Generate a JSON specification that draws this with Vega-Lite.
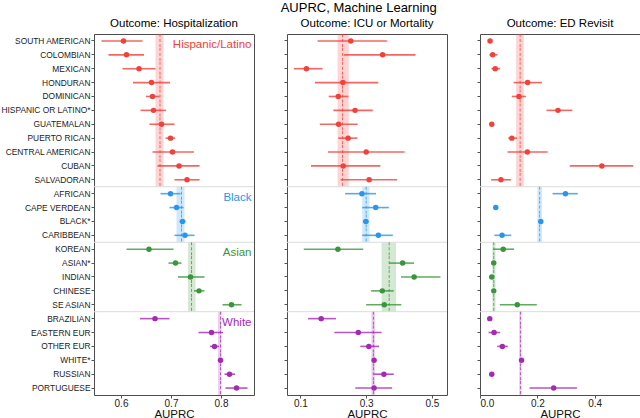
{
  "$schema": "https://vega.github.io/schema/vega-lite/v6.json",
  "padding": {"left": 0, "top": 1, "right": 0, "bottom": 0},
  "title": {"text": "AUPRC, Machine Learning", "fontSize": 13, "fontWeight": "normal", "offset": 3, "anchor": "middle", "dx": 38},
  "datasets": {
    "rows": [
      {"outcome": "Hospitalization", "group": "Hispanic/Latino", "subgroup": "SOUTH AMERICAN", "auprc": 0.605, "lo": 0.561, "hi": 0.643},
      {"outcome": "Hospitalization", "group": "Hispanic/Latino", "subgroup": "COLOMBIAN", "auprc": 0.611, "lo": 0.575, "hi": 0.646},
      {"outcome": "Hospitalization", "group": "Hispanic/Latino", "subgroup": "MEXICAN", "auprc": 0.636, "lo": 0.603, "hi": 0.669},
      {"outcome": "Hospitalization", "group": "Hispanic/Latino", "subgroup": "HONDURAN", "auprc": 0.661, "lo": 0.624, "hi": 0.698},
      {"outcome": "Hospitalization", "group": "Hispanic/Latino", "subgroup": "DOMINICAN", "auprc": 0.663, "lo": 0.650, "hi": 0.677},
      {"outcome": "Hospitalization", "group": "Hispanic/Latino", "subgroup": "HISPANIC OR LATINO*", "auprc": 0.665, "lo": 0.639, "hi": 0.690},
      {"outcome": "Hospitalization", "group": "Hispanic/Latino", "subgroup": "GUATEMALAN", "auprc": 0.681, "lo": 0.657, "hi": 0.707},
      {"outcome": "Hospitalization", "group": "Hispanic/Latino", "subgroup": "PUERTO RICAN", "auprc": 0.699, "lo": 0.689, "hi": 0.708},
      {"outcome": "Hospitalization", "group": "Hispanic/Latino", "subgroup": "CENTRAL AMERICAN", "auprc": 0.703, "lo": 0.663, "hi": 0.746},
      {"outcome": "Hospitalization", "group": "Hispanic/Latino", "subgroup": "CUBAN", "auprc": 0.716, "lo": 0.673, "hi": 0.757},
      {"outcome": "Hospitalization", "group": "Hispanic/Latino", "subgroup": "SALVADORAN", "auprc": 0.732, "lo": 0.707, "hi": 0.757},
      {"outcome": "Hospitalization", "group": "Black", "subgroup": "AFRICAN", "auprc": 0.699, "lo": 0.679, "hi": 0.719},
      {"outcome": "Hospitalization", "group": "Black", "subgroup": "CAPE VERDEAN", "auprc": 0.711, "lo": 0.697, "hi": 0.725},
      {"outcome": "Hospitalization", "group": "Black", "subgroup": "BLACK*", "auprc": 0.723, "lo": 0.717, "hi": 0.729},
      {"outcome": "Hospitalization", "group": "Black", "subgroup": "CARIBBEAN", "auprc": 0.728, "lo": 0.707, "hi": 0.747},
      {"outcome": "Hospitalization", "group": "Asian", "subgroup": "KOREAN", "auprc": 0.656, "lo": 0.611, "hi": 0.705},
      {"outcome": "Hospitalization", "group": "Asian", "subgroup": "ASIAN*", "auprc": 0.709, "lo": 0.695, "hi": 0.721},
      {"outcome": "Hospitalization", "group": "Asian", "subgroup": "INDIAN", "auprc": 0.739, "lo": 0.714, "hi": 0.767},
      {"outcome": "Hospitalization", "group": "Asian", "subgroup": "CHINESE", "auprc": 0.756, "lo": 0.746, "hi": 0.767},
      {"outcome": "Hospitalization", "group": "Asian", "subgroup": "SE ASIAN", "auprc": 0.821, "lo": 0.803, "hi": 0.841},
      {"outcome": "Hospitalization", "group": "White", "subgroup": "BRAZILIAN", "auprc": 0.668, "lo": 0.638, "hi": 0.697},
      {"outcome": "Hospitalization", "group": "White", "subgroup": "EASTERN EUR", "auprc": 0.781, "lo": 0.755, "hi": 0.804},
      {"outcome": "Hospitalization", "group": "White", "subgroup": "OTHER EUR", "auprc": 0.787, "lo": 0.778, "hi": 0.796},
      {"outcome": "Hospitalization", "group": "White", "subgroup": "WHITE*", "auprc": 0.799, "lo": 0.797, "hi": 0.801},
      {"outcome": "Hospitalization", "group": "White", "subgroup": "RUSSIAN", "auprc": 0.817, "lo": 0.807, "hi": 0.828},
      {"outcome": "Hospitalization", "group": "White", "subgroup": "PORTUGUESE", "auprc": 0.831, "lo": 0.809, "hi": 0.853},
      {"outcome": "ICU or Mortality", "group": "Hispanic/Latino", "subgroup": "SOUTH AMERICAN", "auprc": 0.253, "lo": 0.152, "hi": 0.363},
      {"outcome": "ICU or Mortality", "group": "Hispanic/Latino", "subgroup": "COLOMBIAN", "auprc": 0.350, "lo": 0.232, "hi": 0.450},
      {"outcome": "ICU or Mortality", "group": "Hispanic/Latino", "subgroup": "MEXICAN", "auprc": 0.118, "lo": 0.080, "hi": 0.167},
      {"outcome": "ICU or Mortality", "group": "Hispanic/Latino", "subgroup": "HONDURAN", "auprc": 0.229, "lo": 0.144, "hi": 0.337},
      {"outcome": "ICU or Mortality", "group": "Hispanic/Latino", "subgroup": "DOMINICAN", "auprc": 0.215, "lo": 0.186, "hi": 0.246},
      {"outcome": "ICU or Mortality", "group": "Hispanic/Latino", "subgroup": "HISPANIC OR LATINO*", "auprc": 0.266, "lo": 0.200, "hi": 0.320},
      {"outcome": "ICU or Mortality", "group": "Hispanic/Latino", "subgroup": "GUATEMALAN", "auprc": 0.216, "lo": 0.159, "hi": 0.274},
      {"outcome": "ICU or Mortality", "group": "Hispanic/Latino", "subgroup": "PUERTO RICAN", "auprc": 0.245, "lo": 0.215, "hi": 0.273},
      {"outcome": "ICU or Mortality", "group": "Hispanic/Latino", "subgroup": "CENTRAL AMERICAN", "auprc": 0.300, "lo": 0.184, "hi": 0.417},
      {"outcome": "ICU or Mortality", "group": "Hispanic/Latino", "subgroup": "CUBAN", "auprc": 0.230, "lo": 0.132, "hi": 0.343},
      {"outcome": "ICU or Mortality", "group": "Hispanic/Latino", "subgroup": "SALVADORAN", "auprc": 0.309, "lo": 0.222, "hi": 0.394},
      {"outcome": "ICU or Mortality", "group": "Black", "subgroup": "AFRICAN", "auprc": 0.287, "lo": 0.236, "hi": 0.330},
      {"outcome": "ICU or Mortality", "group": "Black", "subgroup": "CAPE VERDEAN", "auprc": 0.329, "lo": 0.288, "hi": 0.369},
      {"outcome": "ICU or Mortality", "group": "Black", "subgroup": "BLACK*", "auprc": 0.299, "lo": 0.290, "hi": 0.308},
      {"outcome": "ICU or Mortality", "group": "Black", "subgroup": "CARIBBEAN", "auprc": 0.337, "lo": 0.288, "hi": 0.381},
      {"outcome": "ICU or Mortality", "group": "Asian", "subgroup": "KOREAN", "auprc": 0.214, "lo": 0.110, "hi": 0.291},
      {"outcome": "ICU or Mortality", "group": "Asian", "subgroup": "ASIAN*", "auprc": 0.411, "lo": 0.370, "hi": 0.446},
      {"outcome": "ICU or Mortality", "group": "Asian", "subgroup": "INDIAN", "auprc": 0.446, "lo": 0.406, "hi": 0.526},
      {"outcome": "ICU or Mortality", "group": "Asian", "subgroup": "CHINESE", "auprc": 0.349, "lo": 0.315, "hi": 0.384},
      {"outcome": "ICU or Mortality", "group": "Asian", "subgroup": "SE ASIAN", "auprc": 0.355, "lo": 0.300, "hi": 0.407},
      {"outcome": "ICU or Mortality", "group": "White", "subgroup": "BRAZILIAN", "auprc": 0.163, "lo": 0.123, "hi": 0.208},
      {"outcome": "ICU or Mortality", "group": "White", "subgroup": "EASTERN EUR", "auprc": 0.276, "lo": 0.203, "hi": 0.347},
      {"outcome": "ICU or Mortality", "group": "White", "subgroup": "OTHER EUR", "auprc": 0.308, "lo": 0.282, "hi": 0.339},
      {"outcome": "ICU or Mortality", "group": "White", "subgroup": "WHITE*", "auprc": 0.324, "lo": 0.321, "hi": 0.327},
      {"outcome": "ICU or Mortality", "group": "White", "subgroup": "RUSSIAN", "auprc": 0.354, "lo": 0.324, "hi": 0.384},
      {"outcome": "ICU or Mortality", "group": "White", "subgroup": "PORTUGUESE", "auprc": 0.324, "lo": 0.267, "hi": 0.379},
      {"outcome": "ED Revisit", "group": "Hispanic/Latino", "subgroup": "SOUTH AMERICAN", "auprc": 0.035, "lo": 0.030, "hi": 0.041},
      {"outcome": "ED Revisit", "group": "Hispanic/Latino", "subgroup": "COLOMBIAN", "auprc": 0.044, "lo": 0.033, "hi": 0.061},
      {"outcome": "ED Revisit", "group": "Hispanic/Latino", "subgroup": "MEXICAN", "auprc": 0.053, "lo": 0.040, "hi": 0.070},
      {"outcome": "ED Revisit", "group": "Hispanic/Latino", "subgroup": "HONDURAN", "auprc": 0.166, "lo": 0.117, "hi": 0.216},
      {"outcome": "ED Revisit", "group": "Hispanic/Latino", "subgroup": "DOMINICAN", "auprc": 0.136, "lo": 0.111, "hi": 0.160},
      {"outcome": "ED Revisit", "group": "Hispanic/Latino", "subgroup": "HISPANIC OR LATINO*", "auprc": 0.272, "lo": 0.232, "hi": 0.322},
      {"outcome": "ED Revisit", "group": "Hispanic/Latino", "subgroup": "GUATEMALAN", "auprc": 0.041, "lo": 0.036, "hi": 0.046},
      {"outcome": "ED Revisit", "group": "Hispanic/Latino", "subgroup": "PUERTO RICAN", "auprc": 0.111, "lo": 0.099, "hi": 0.129},
      {"outcome": "ED Revisit", "group": "Hispanic/Latino", "subgroup": "CENTRAL AMERICAN", "auprc": 0.165, "lo": 0.096, "hi": 0.236},
      {"outcome": "ED Revisit", "group": "Hispanic/Latino", "subgroup": "CUBAN", "auprc": 0.425, "lo": 0.313, "hi": 0.534},
      {"outcome": "ED Revisit", "group": "Hispanic/Latino", "subgroup": "SALVADORAN", "auprc": 0.073, "lo": 0.039, "hi": 0.108},
      {"outcome": "ED Revisit", "group": "Black", "subgroup": "AFRICAN", "auprc": 0.298, "lo": 0.253, "hi": 0.341},
      {"outcome": "ED Revisit", "group": "Black", "subgroup": "CAPE VERDEAN", "auprc": 0.055, "lo": 0.050, "hi": 0.060},
      {"outcome": "ED Revisit", "group": "Black", "subgroup": "BLACK*", "auprc": 0.212, "lo": 0.209, "hi": 0.215},
      {"outcome": "ED Revisit", "group": "Black", "subgroup": "CARIBBEAN", "auprc": 0.077, "lo": 0.050, "hi": 0.109},
      {"outcome": "ED Revisit", "group": "Asian", "subgroup": "KOREAN", "auprc": 0.081, "lo": 0.047, "hi": 0.119},
      {"outcome": "ED Revisit", "group": "Asian", "subgroup": "ASIAN*", "auprc": 0.048, "lo": 0.043, "hi": 0.053},
      {"outcome": "ED Revisit", "group": "Asian", "subgroup": "INDIAN", "auprc": 0.041, "lo": 0.036, "hi": 0.046},
      {"outcome": "ED Revisit", "group": "Asian", "subgroup": "CHINESE", "auprc": 0.048, "lo": 0.044, "hi": 0.053},
      {"outcome": "ED Revisit", "group": "Asian", "subgroup": "SE ASIAN", "auprc": 0.130, "lo": 0.069, "hi": 0.198},
      {"outcome": "ED Revisit", "group": "White", "subgroup": "BRAZILIAN", "auprc": 0.034, "lo": 0.029, "hi": 0.039},
      {"outcome": "ED Revisit", "group": "White", "subgroup": "EASTERN EUR", "auprc": 0.049, "lo": 0.030, "hi": 0.070},
      {"outcome": "ED Revisit", "group": "White", "subgroup": "OTHER EUR", "auprc": 0.078, "lo": 0.060, "hi": 0.097},
      {"outcome": "ED Revisit", "group": "White", "subgroup": "WHITE*", "auprc": 0.145, "lo": 0.143, "hi": 0.147},
      {"outcome": "ED Revisit", "group": "White", "subgroup": "RUSSIAN", "auprc": 0.041, "lo": 0.037, "hi": 0.045},
      {"outcome": "ED Revisit", "group": "White", "subgroup": "PORTUGUESE", "auprc": 0.257, "lo": 0.173, "hi": 0.338}
    ],
    "means": [
      {"group": "Hispanic/Latino", "hosp": 0.678, "hosp_lo": 0.669, "hosp_hi": 0.685, "icu": 0.228, "icu_lo": 0.213, "icu_hi": 0.247, "ed": 0.140, "ed_lo": 0.126, "ed_hi": 0.153},
      {"group": "Black", "hosp": 0.721, "hosp_lo": 0.711, "hosp_hi": 0.727, "icu": 0.300, "icu_lo": 0.288, "icu_hi": 0.310, "ed": 0.208, "ed_lo": 0.200, "ed_hi": 0.216},
      {"group": "Asian", "hosp": 0.741, "hosp_lo": 0.734, "hosp_hi": 0.749, "icu": 0.370, "icu_lo": 0.347, "icu_hi": 0.391, "ed": 0.048, "ed_lo": 0.043, "ed_hi": 0.054},
      {"group": "White", "hosp": 0.799, "hosp_lo": 0.794, "hosp_hi": 0.801, "icu": 0.322, "icu_lo": 0.316, "icu_hi": 0.327, "ed": 0.141, "ed_lo": 0.137, "ed_hi": 0.145}
    ]
  },
  "hconcat": [
    {
      "width": 160,
      "height": 361,
      "title": {"text": "Outcome: Hospitalization", "fontSize": 11.5, "fontWeight": "normal", "offset": 4},
      "data": {"name": "rows"},
      "transform": [
        {"filter": "datum.outcome == 'Hospitalization'"},
        {"lookup": "group", "from": {"data": {"name": "means"}, "key": "group", "fields": ["hosp", "hosp_lo", "hosp_hi"]}, "as": ["mean", "mlo", "mhi"]}
      ],
      "layer": [
        {
          "mark": {"type": "rect", "opacity": 0.22},
          "encoding": {
            "x": {"field": "mlo", "type": "quantitative", "title": "AUPRC", "scale": {"domain": [0.546, 0.866], "nice": false, "zero": false}, "axis": {"values": [0.6, 0.7, 0.8], "format": ".1f"}},
            "x2": {"field": "mhi", "title": "AUPRC"},
            "y": {"field": "subgroup", "type": "nominal", "title": null,
              "scale": {"domain": ["SOUTH AMERICAN", "COLOMBIAN", "MEXICAN", "HONDURAN", "DOMINICAN", "HISPANIC OR LATINO*", "GUATEMALAN", "PUERTO RICAN", "CENTRAL AMERICAN", "CUBAN", "SALVADORAN", "AFRICAN", "CAPE VERDEAN", "BLACK*", "CARIBBEAN", "KOREAN", "ASIAN*", "INDIAN", "CHINESE", "SE ASIAN", "BRAZILIAN", "EASTERN EUR", "OTHER EUR", "WHITE*", "RUSSIAN", "PORTUGUESE"], "paddingInner": 0, "paddingOuter": 0}},
            "color": {"field": "group", "type": "nominal", "legend": null, "scale": {"domain": ["Hispanic/Latino", "Black", "Asian", "White"], "range": ["#f0413b", "#2b95ec", "#3a963a", "#a52ab3"]}}
          }
        },
        {
          "transform": [{"filter": "indexof(['AFRICAN', 'KOREAN', 'BRAZILIAN'], datum.subgroup) >= 0"}],
          "mark": {"type": "rule", "color": "#dcdcdc", "strokeWidth": 1},
          "encoding": {"y": {"field": "subgroup", "type": "nominal", "bandPosition": 0}}
        },
        {
          "mark": {"type": "rule", "strokeDash": [3, 2], "strokeWidth": 1, "opacity": 0.75},
          "encoding": {
            "x": {"field": "mean", "type": "quantitative", "title": "AUPRC"},
            "y": {"field": "subgroup", "type": "nominal", "bandPosition": 0},
            "y2": {"field": "subgroup", "bandPosition": 1},
            "color": {"field": "group", "type": "nominal"}
          }
        },
        {
          "mark": {"type": "rule", "strokeWidth": 1.6, "opacity": 0.8},
          "encoding": {
            "x": {"field": "lo", "type": "quantitative", "title": "AUPRC"},
            "x2": {"field": "hi", "title": "AUPRC"},
            "y": {"field": "subgroup", "type": "nominal"},
            "color": {"field": "group", "type": "nominal"}
          }
        },
        {
          "mark": {"type": "circle", "size": 30, "opacity": 1},
          "encoding": {
            "x": {"field": "auprc", "type": "quantitative", "title": "AUPRC"},
            "y": {"field": "subgroup", "type": "nominal"},
            "color": {"field": "group", "type": "nominal"}
          }
        },
        {
          "transform": [{"filter": "indexof(['SOUTH AMERICAN', 'AFRICAN', 'KOREAN', 'BRAZILIAN'], datum.subgroup) >= 0"}],
          "mark": {"type": "text", "align": "right", "baseline": "middle", "dy": 4, "fontSize": 11.5},
          "encoding": {
            "x": {"datum": 0.861, "type": "quantitative"},
            "y": {"field": "subgroup", "type": "nominal"},
            "text": {"field": "group"},
            "color": {"field": "group", "type": "nominal"}
          }
        }
      ]
    },
    {
      "width": 160,
      "height": 361,
      "title": {"text": "Outcome: ICU or Mortality", "fontSize": 11.5, "fontWeight": "normal", "offset": 4},
      "data": {"name": "rows"},
      "transform": [
        {"filter": "datum.outcome == 'ICU or Mortality'"},
        {"lookup": "group", "from": {"data": {"name": "means"}, "key": "group", "fields": ["icu", "icu_lo", "icu_hi"]}, "as": ["mean", "mlo", "mhi"]}
      ],
      "layer": [
        {
          "mark": {"type": "rect", "opacity": 0.22},
          "encoding": {
            "x": {"field": "mlo", "type": "quantitative", "title": "AUPRC", "scale": {"domain": [0.059, 0.546], "nice": false, "zero": false}, "axis": {"values": [0.1, 0.2, 0.3, 0.4, 0.5], "format": ".1f"}},
            "x2": {"field": "mhi", "title": "AUPRC"},
            "y": {"field": "subgroup", "type": "nominal", "title": null,
              "scale": {"domain": ["SOUTH AMERICAN", "COLOMBIAN", "MEXICAN", "HONDURAN", "DOMINICAN", "HISPANIC OR LATINO*", "GUATEMALAN", "PUERTO RICAN", "CENTRAL AMERICAN", "CUBAN", "SALVADORAN", "AFRICAN", "CAPE VERDEAN", "BLACK*", "CARIBBEAN", "KOREAN", "ASIAN*", "INDIAN", "CHINESE", "SE ASIAN", "BRAZILIAN", "EASTERN EUR", "OTHER EUR", "WHITE*", "RUSSIAN", "PORTUGUESE"], "paddingInner": 0, "paddingOuter": 0},
              "axis": {"labels": false, "minExtent": 0, "maxExtent": 3}},
            "color": {"field": "group", "type": "nominal"}
          }
        },
        {
          "transform": [{"filter": "indexof(['AFRICAN', 'KOREAN', 'BRAZILIAN'], datum.subgroup) >= 0"}],
          "mark": {"type": "rule", "color": "#dcdcdc", "strokeWidth": 1},
          "encoding": {"y": {"field": "subgroup", "type": "nominal", "bandPosition": 0}}
        },
        {
          "mark": {"type": "rule", "strokeDash": [3, 2], "strokeWidth": 1, "opacity": 0.75},
          "encoding": {
            "x": {"field": "mean", "type": "quantitative", "title": "AUPRC"},
            "y": {"field": "subgroup", "type": "nominal", "bandPosition": 0},
            "y2": {"field": "subgroup", "bandPosition": 1},
            "color": {"field": "group", "type": "nominal"}
          }
        },
        {
          "mark": {"type": "rule", "strokeWidth": 1.6, "opacity": 0.8},
          "encoding": {
            "x": {"field": "lo", "type": "quantitative", "title": "AUPRC"},
            "x2": {"field": "hi", "title": "AUPRC"},
            "y": {"field": "subgroup", "type": "nominal"},
            "color": {"field": "group", "type": "nominal"}
          }
        },
        {
          "mark": {"type": "circle", "size": 30, "opacity": 1},
          "encoding": {
            "x": {"field": "auprc", "type": "quantitative", "title": "AUPRC"},
            "y": {"field": "subgroup", "type": "nominal"},
            "color": {"field": "group", "type": "nominal"}
          }
        }
      ]
    },
    {
      "width": 160,
      "height": 361,
      "title": {"text": "Outcome: ED Revisit", "fontSize": 11.5, "fontWeight": "normal", "offset": 4},
      "data": {"name": "rows"},
      "transform": [
        {"filter": "datum.outcome == 'ED Revisit'"},
        {"lookup": "group", "from": {"data": {"name": "means"}, "key": "group", "fields": ["ed", "ed_lo", "ed_hi"]}, "as": ["mean", "mlo", "mhi"]}
      ],
      "layer": [
        {
          "mark": {"type": "rect", "opacity": 0.22},
          "encoding": {
            "x": {"field": "mlo", "type": "quantitative", "title": "AUPRC", "scale": {"domain": [0, 0.558], "nice": false, "zero": false}, "axis": {"values": [0, 0.2, 0.4], "format": ".1f"}},
            "x2": {"field": "mhi", "title": "AUPRC"},
            "y": {"field": "subgroup", "type": "nominal", "title": null,
              "scale": {"domain": ["SOUTH AMERICAN", "COLOMBIAN", "MEXICAN", "HONDURAN", "DOMINICAN", "HISPANIC OR LATINO*", "GUATEMALAN", "PUERTO RICAN", "CENTRAL AMERICAN", "CUBAN", "SALVADORAN", "AFRICAN", "CAPE VERDEAN", "BLACK*", "CARIBBEAN", "KOREAN", "ASIAN*", "INDIAN", "CHINESE", "SE ASIAN", "BRAZILIAN", "EASTERN EUR", "OTHER EUR", "WHITE*", "RUSSIAN", "PORTUGUESE"], "paddingInner": 0, "paddingOuter": 0},
              "axis": {"labels": false, "minExtent": 0, "maxExtent": 3}},
            "color": {"field": "group", "type": "nominal"}
          }
        },
        {
          "transform": [{"filter": "indexof(['AFRICAN', 'KOREAN', 'BRAZILIAN'], datum.subgroup) >= 0"}],
          "mark": {"type": "rule", "color": "#dcdcdc", "strokeWidth": 1},
          "encoding": {"y": {"field": "subgroup", "type": "nominal", "bandPosition": 0}}
        },
        {
          "mark": {"type": "rule", "strokeDash": [3, 2], "strokeWidth": 1, "opacity": 0.75},
          "encoding": {
            "x": {"field": "mean", "type": "quantitative", "title": "AUPRC"},
            "y": {"field": "subgroup", "type": "nominal", "bandPosition": 0},
            "y2": {"field": "subgroup", "bandPosition": 1},
            "color": {"field": "group", "type": "nominal"}
          }
        },
        {
          "mark": {"type": "rule", "strokeWidth": 1.6, "opacity": 0.8},
          "encoding": {
            "x": {"field": "lo", "type": "quantitative", "title": "AUPRC"},
            "x2": {"field": "hi", "title": "AUPRC"},
            "y": {"field": "subgroup", "type": "nominal"},
            "color": {"field": "group", "type": "nominal"}
          }
        },
        {
          "mark": {"type": "circle", "size": 30, "opacity": 1},
          "encoding": {
            "x": {"field": "auprc", "type": "quantitative", "title": "AUPRC"},
            "y": {"field": "subgroup", "type": "nominal"},
            "color": {"field": "group", "type": "nominal"}
          }
        }
      ]
    }
  ],
  "spacing": 28,
  "config": {
    "font": "Liberation Sans",
    "view": {"stroke": "#4d4d4d", "strokeWidth": 1},
    "axis": {"grid": false, "domain": false, "tickColor": "#555555", "tickSize": 3, "labelColor": "#222222", "titleColor": "#111111", "titleFontWeight": "normal"},
    "axisX": {"labelFontSize": 10, "titleFontSize": 11.5, "labelPadding": 0, "titlePadding": 0},
    "axisY": {"labelFontSize": 8.4, "labelPadding": 1}
  }
}
